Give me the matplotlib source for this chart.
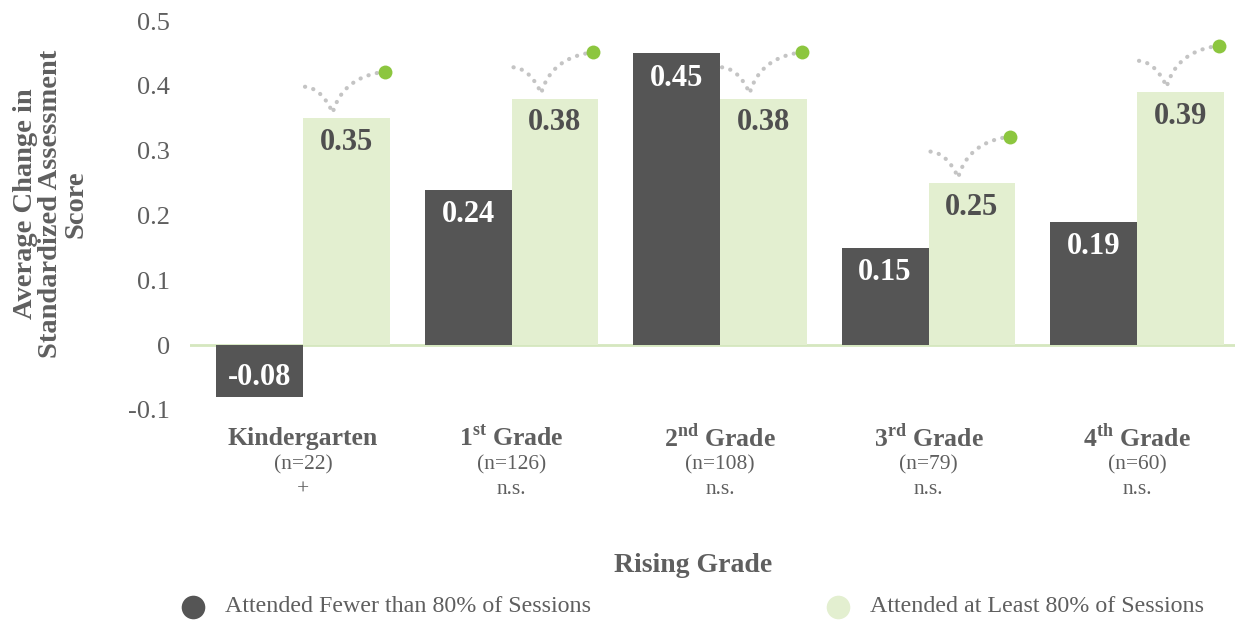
import matplotlib
matplotlib.use("Agg")
import matplotlib.pyplot as plt
import numpy as np
from matplotlib.lines import Line2D
import matplotlib.transforms as mtransforms

# ---- data ----
grades = [r"Kindergarten", r"1$^{\mathbf{st}}$ Grade", r"2$^{\mathbf{nd}}$ Grade",
          r"3$^{\mathbf{rd}}$ Grade", r"4$^{\mathbf{th}}$ Grade"]
sample_sizes = ["(n=22)", "(n=126)", "(n=108)", "(n=79)", "(n=60)"]
significance = ["+", "n.s.", "n.s.", "n.s.", "n.s."]
fewer_80 = [-0.08, 0.24, 0.45, 0.15, 0.19]
at_least_80 = [0.35, 0.38, 0.38, 0.25, 0.39]
series_names = ["Attended Fewer than 80% of Sessions", "Attended at Least 80% of Sessions"]
yticks = [-0.1, 0, 0.1, 0.2, 0.3, 0.4, 0.5]
ytick_labels = ["-0.1", "0", "0.1", "0.2", "0.3", "0.4", "0.5"]
ylabel_lines = ["Average Change in", "Standardized Assessment", "Score"]

FONT = "Liberation Serif"
DARK = "#555555"
LIGHT = "#e3efd0"
TEXT = "#5f5f5f"
GREEN = "#8cc63f"
DOTS = "#c4c4c4"

plt.rcParams["font.family"] = FONT
plt.rcParams["mathtext.fontset"] = "custom"
plt.rcParams["mathtext.rm"] = FONT
plt.rcParams["mathtext.bf"] = FONT + ":bold"

W, H = 1239, 622
fig = plt.figure(figsize=(W / 100, H / 100), dpi=100)
ax = fig.add_axes([190 / W, 1 - 410 / H, (1235 - 190) / W, (410 - 21) / H])

x = np.arange(len(grades))
bw = 0.417
ax.bar(x - bw / 2, fewer_80, width=bw, color=DARK, zorder=2)
ax.bar(x + bw / 2, at_least_80, width=bw, color=LIGHT, zorder=2)

ax.set_xlim(-0.542, 4.47)
ax.set_ylim(-0.1, 0.5)
ax.axhline(0, color="#d5e7bf", lw=2, zorder=1)

for s in ax.spines.values():
    s.set_visible(False)
ax.set_xticks([])
ax.set_yticks(yticks)
ax.set_yticklabels(ytick_labels)
ax.tick_params(axis="y", length=0, pad=14.5, labelsize=19, labelcolor=TEXT)

# three-line rotated axis title, one text per line (baselines in pixels from the left)
for line, base_px in zip(ylabel_lines, [32, 57.5, 83]):
    fig.text(base_px / W, 1 - 204 / H, line, rotation=90, rotation_mode="anchor",
             ha="center", va="baseline", fontsize=20.5, fontweight="bold", color=TEXT)

# value labels inside bar ends (offsets in pixels converted to points)
PX = 0.72
for xi, v in zip(x - bw / 2, fewer_80):
    off = -25 if v >= 0 else 20
    ax.annotate(f"{v:.2f}", (xi, v), xytext=(0, off * PX), textcoords="offset points",
                ha="center", va="center", fontsize=22, fontweight="bold", color="white", zorder=3)
for xi, v in zip(x + bw / 2, at_least_80):
    ax.annotate(f"{v:.2f}", (xi, v), xytext=(0, -24 * PX), textcoords="offset points",
                ha="center", va="center", fontsize=22, fontweight="bold", color="#4f4f4f", zorder=3)

# bounce markers above the light bars (pixel offsets from the bar's top centre)
fig.canvas.draw()
to_disp = ax.transData
to_data = ax.transData.inverted()
for xi, v in zip(x + bw / 2, at_least_80):
    cx, cy = to_disp.transform((xi, v))
    pts_px = [(-41.5, 31.5), (-24.8, 29.9), (-13.8, 5.5), (-3.5, 41.5), (38.5, 46.5)]
    pts = [to_data.transform((cx + dx, cy + dy)) for dx, dy in pts_px]
    t = np.linspace(0, 1, 40)[:, None]
    seg1 = (1 - t) ** 2 * pts[0] + 2 * (1 - t) * t * pts[1] + t ** 2 * pts[2]
    seg2 = (1 - t) ** 2 * pts[2] + 2 * (1 - t) * t * pts[3] + t ** 2 * pts[4]
    curve = np.vstack([seg1, seg2[1:]])
    ax.plot(curve[:, 0], curve[:, 1], color=DOTS, lw=3, linestyle=(0, (0.05, 2.0)),
            dash_capstyle="round", clip_on=False, zorder=3)
    ax.plot([pts[4][0]], [pts[4][1]], "o", color=GREEN, ms=10, mec="none",
            clip_on=False, zorder=4)

# category labels under the axis
trans = mtransforms.blended_transform_factory(ax.transData, fig.transFigure)
for xi, g, n, sig in zip(x, grades, sample_sizes, significance):
    ax.text(xi, 1 - 438 / H, g, transform=trans, ha="center", va="center",
            fontsize=18.5, fontweight="bold", color=TEXT)
    ax.text(xi, 1 - 465 / H, n, transform=trans, ha="center", va="center",
            fontsize=15.5, color=TEXT)
    ax.text(xi, 1 - 490 / H, sig, transform=trans, ha="center", va="center",
            fontsize=15.5, color=TEXT)

fig.text(693 / W, 1 - 565 / H, "Rising Grade", ha="center", va="center",
         fontsize=20, fontweight="bold", color=TEXT)

# legend
for (px, tx), name, col in zip([(193, 225), (838, 870)], series_names, [DARK, LIGHT]):
    fig.add_artist(Line2D([px / W], [1 - 607 / H], marker="o", ms=17, color=col,
                          mec="none", transform=fig.transFigure))
    fig.text(tx / W, 1 - 607 / H, name, ha="left", va="center", fontsize=17.3, color=TEXT)

fig.savefig("out.png", dpi=100)
